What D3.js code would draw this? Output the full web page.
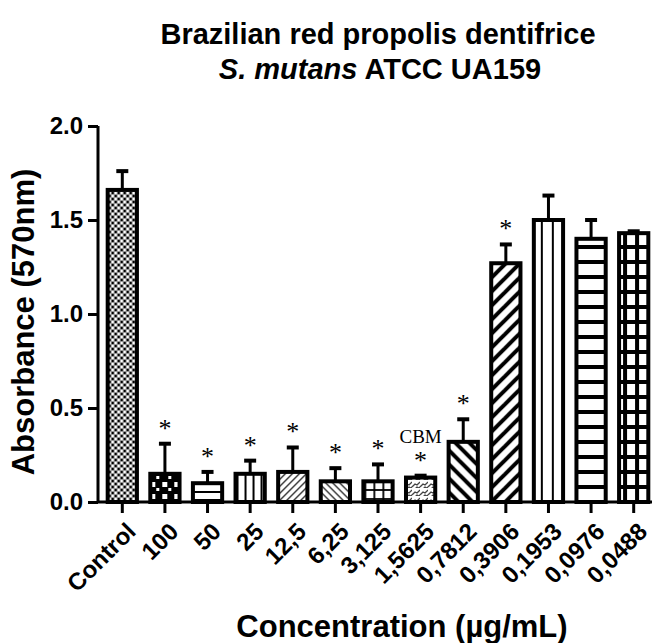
<!DOCTYPE html>
<html>
<head>
<meta charset="utf-8">
<script src="https://cdn.jsdelivr.net/npm/d3@7.9.0/dist/d3.min.js"></script>
<style>
  body { margin: 0; background: #fff; }
  svg { display: block; font-family: "Liberation Sans", Arial, sans-serif; }
</style>
</head>
<body>
<svg id="chart" width="655" height="643"></svg>
<script>
// --- data ---
const categories = ["Control", "100", "50", "25", "12,5", "6,25", "3,125", "1,5625",
  "0,7812", "0,3906", "0,1953", "0,0976", "0,0488"];
const means = [1.66, 0.15, 0.10, 0.15, 0.16, 0.11, 0.11, 0.13, 0.32, 1.27, 1.50, 1.40, 1.43];
const sds   = [0.10, 0.16, 0.06, 0.07, 0.13, 0.07, 0.09, 0.01, 0.12, 0.10, 0.13, 0.10, 0.01];
const starred = [false, true, true, true, true, true, true, true, true, true, false, false, false];
const fills = ["dots", "check", "hlines", "vlines", "fwdThin", "backThin", "gridThin",
  "wave", "backThick", "fwdThick", "vThick", "hThick", "gridThick"];
const yTicks = [0, 0.5, 1.0, 1.5, 2.0];
const cbmIndex = 7;

const svg = d3.select("#chart");
const x = d3.scaleBand().domain(categories).range([101, 655]).paddingInner(0.22).paddingOuter(0.11);
const y = d3.scaleLinear().domain([0, 2]).range([502, 126]);

// --- patterns, one per bar, anchored at the bar's left edge ---
const defs = svg.append("defs");
function makePattern(id, x0, w, h, draw) {
  const p = defs.append("pattern").attr("id", id)
    .attr("patternUnits", "userSpaceOnUse")
    .attr("x", x0).attr("y", 0).attr("width", w).attr("height", h);
  p.append("rect").attr("width", w).attr("height", h).attr("fill", "#fff");
  draw(p);
}
const line = (p, x1, y1, x2, y2, sw, c) => p.append("line")
  .attr("x1", x1).attr("y1", y1).attr("x2", x2).attr("y2", y2)
  .attr("stroke", c || "#000").attr("stroke-width", sw);

const drawers = {
  dots: p => {
    p.append("rect").attr("width", 6).attr("height", 6).attr("fill", "#969696");
    p.append("rect").attr("x", 0).attr("y", 0).attr("width", 2).attr("height", 2).attr("fill", "#000");
    p.append("rect").attr("x", 3).attr("y", 3).attr("width", 2).attr("height", 2).attr("fill", "#000");
    p.append("rect").attr("x", 3).attr("y", 0).attr("width", 2).attr("height", 2).attr("fill", "#fff");
    p.append("rect").attr("x", 0).attr("y", 3).attr("width", 2).attr("height", 2).attr("fill", "#fff");
  },
  check: p => {
    p.append("rect").attr("width", 12).attr("height", 12).attr("fill", "#000");
    p.append("rect").attr("x", 2).attr("y", 2).attr("width", 5).attr("height", 5).attr("fill", "#fff");
    p.append("rect").attr("x", 8).attr("y", 8).attr("width", 3).attr("height", 3).attr("fill", "#fff");
  },
  hlines: p => line(p, 0, 4, 10, 4, 2),
  vlines: p => line(p, 4, 0, 4, 10, 2),
  fwdThin: p => { line(p, 0, 7, 7, 0, 1.4, "#333"); line(p, -1, 1, 1, -1, 1.4, "#333"); line(p, 6, 8, 8, 6, 1.4, "#333"); },
  backThin: p => { line(p, 0, 0, 7, 7, 1.4, "#333"); line(p, -1, 6, 1, 8, 1.4, "#333"); line(p, 6, -1, 8, 1, 1.4, "#333"); },
  gridThin: p => { line(p, 0, 4, 9, 4, 1.8); line(p, 4, 0, 4, 9, 1.8); },
  wave: p => {
    p.append("path").attr("d", "M0,7 L3,4 L5,5 L8,2 M2,10 L5,7 L7,8 L10,5")
      .attr("fill", "none").attr("stroke", "#444").attr("stroke-width", 1.3);
  },
  backThick: p => { line(p, 0, 0, 14, 14, 4); line(p, -2, 12, 2, 16, 4); line(p, 12, -2, 16, 2, 4); },
  fwdThick: p => { line(p, 0, 14, 14, 0, 4); line(p, -2, 2, 2, -2, 4); line(p, 12, 16, 16, 12, 4); },
  vThick: p => line(p, 11, 0, 11, 10, 4),
  hThick: p => line(p, 0, 7, 10, 7, 4),
  gridThick: p => { line(p, 0, 7, 12, 7, 4); line(p, 8, 0, 8, 15, 4); }
};
const sizes = {
  dots: [6, 6], check: [12, 12], hlines: [10, 8], vlines: [8, 10], fwdThin: [7, 7], backThin: [7, 7],
  gridThin: [9, 9], wave: [8, 8], backThick: [14, 14], fwdThick: [14, 14], vThick: [11, 10],
  hThick: [10, 15], gridThick: [12, 15]
};
categories.forEach((c, i) => {
  const k = fills[i];
  makePattern("pat" + i, x(c), sizes[k][0], sizes[k][1], drawers[k]);
});

// --- error bars (behind the bars) ---
const eb = svg.append("g");
categories.forEach((c, i) => {
  const cx = x(c) + x.bandwidth() / 2;
  eb.append("line").attr("x1", cx).attr("x2", cx)
    .attr("y1", y(means[i])).attr("y2", y(means[i] + sds[i]))
    .attr("stroke", "#000").attr("stroke-width", 3);
  eb.append("line").attr("x1", cx - 6).attr("x2", cx + 6)
    .attr("y1", y(means[i] + sds[i])).attr("y2", y(means[i] + sds[i]))
    .attr("stroke", "#000").attr("stroke-width", 4);
});

// --- bars ---
svg.append("g").selectAll("rect").data(categories).join("rect")
  .attr("x", d => x(d) + 2)
  .attr("width", x.bandwidth() - 4)
  .attr("y", (d, i) => y(means[i]))
  .attr("height", (d, i) => y(0) - y(means[i]))
  .attr("fill", (d, i) => `url(#pat${i})`)
  .attr("stroke", "#000").attr("stroke-width", 4);

// --- significance stars ---
svg.append("g").selectAll("text").data(categories.filter((d, i) => starred[i])).join("text")
  .attr("x", d => x(d) + x.bandwidth() / 2)
  .attr("y", d => { const i = categories.indexOf(d); return y(means[i] + sds[i]) - 7; })
  .attr("text-anchor", "middle")
  .style("font-family", "'Liberation Serif', 'Times New Roman', serif")
  .style("font-size", "26px")
  .text("*");

svg.append("text")
  .attr("x", x(categories[cbmIndex]) + x.bandwidth() / 2)
  .attr("y", y(means[cbmIndex] + sds[cbmIndex]) - 33)
  .attr("text-anchor", "middle")
  .style("font-family", "'Liberation Serif', 'Times New Roman', serif")
  .style("font-size", "19px")
  .text("CBM");

// --- axes ---
const yAxis = svg.append("g").attr("transform", "translate(98,0)")
  .call(d3.axisLeft(y).tickValues(yTicks).tickFormat(d3.format(".1f")).tickSize(10).tickPadding(5));
yAxis.select(".domain").attr("stroke-width", 3).attr("d", `M0,${y(2)}V${y(0)}`);
yAxis.selectAll(".tick line").attr("stroke-width", 3);
yAxis.selectAll(".tick text").style("font-size", "24px").style("font-weight", "bold")
  .style("font-family", "'Liberation Sans', Arial, sans-serif").attr("fill", "#000");

const xAxis = svg.append("g").attr("transform", `translate(0,${y(0)})`)
  .call(d3.axisBottom(x).tickSize(11).tickSizeOuter(0));
xAxis.select(".domain").attr("stroke-width", 3).attr("d", `M98,0H652`);
xAxis.selectAll(".tick line").attr("stroke-width", 3);
xAxis.selectAll(".tick text")
  .style("font-size", "24px").style("font-weight", "bold")
  .style("font-family", "'Liberation Sans', Arial, sans-serif").attr("fill", "#000")
  .attr("text-anchor", "end").attr("dy", null).attr("y", 0)
  .attr("transform", "translate(15,31) rotate(-45)");

// --- titles ---
svg.append("text")
  .attr("transform", `translate(34,322) rotate(-90)`)
  .attr("text-anchor", "middle")
  .style("font-size", "31px").style("font-weight", "bold")
  .text("Absorbance (570nm)");

svg.append("text").attr("x", 402).attr("y", 637).attr("text-anchor", "middle")
  .style("font-size", "31px").style("font-weight", "bold")
  .text("Concentration (µg/mL)");

svg.append("text").attr("x", 378).attr("y", 44).attr("text-anchor", "middle")
  .style("font-size", "29px").style("font-weight", "bold")
  .text("Brazilian red propolis dentifrice");

const t2 = svg.append("text").attr("x", 380).attr("y", 79).attr("text-anchor", "middle")
  .style("font-size", "29px").style("font-weight", "bold");
t2.append("tspan").style("font-style", "italic").text("S. mutans");
t2.append("tspan").text(" ATCC UA159");
</script>
</body>
</html>
